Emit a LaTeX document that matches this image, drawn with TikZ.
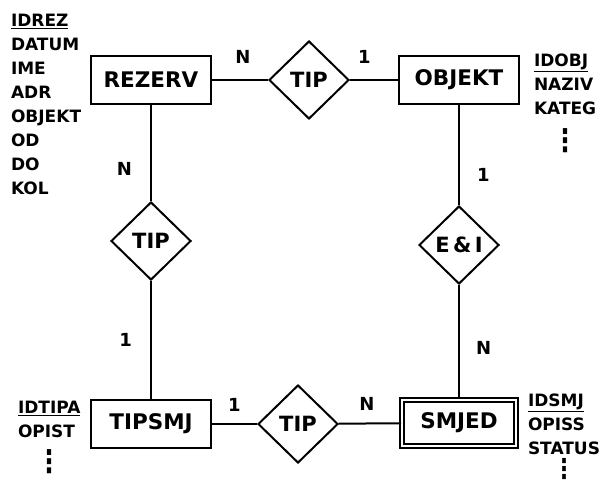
\documentclass[tikz,border=0pt]{standalone}
\usepackage{fontspec}
\setsansfont{DejaVu Sans}
\usetikzlibrary{positioning,shapes.geometric}
\newcommand{\tallvdots}{\scalebox{1}[1.3]{⋮}}

\begin{document}
\begin{tikzpicture}[
    x=1pt, y=-1pt,
    line width=2pt,
    every node/.style={font=\sffamily\bfseries},
    entity/.style={draw, minimum width=120pt, minimum height=48pt, inner sep=0pt, font=\sffamily\bfseries\fontsize{21.5}{26}\selectfont},
    weakentity/.style={entity, double, double distance=2.5pt, line width=1.6pt, minimum width=114pt, minimum height=46pt},
    relation/.style={draw, diamond, minimum width=80pt, minimum height=78pt, inner sep=0pt, font=\sffamily\bfseries\fontsize{21}{26}\selectfont},
    card/.style={inner sep=0pt, font=\sffamily\bfseries\fontsize{18}{22}\selectfont},
    attrs/.style={inner sep=0pt, anchor=north west, align=left, font=\sffamily\bfseries\fontsize{17}{24}\selectfont},
    more/.style={inner sep=0pt, font=\sffamily\bfseries\fontsize{24}{28}\selectfont}
]
\useasboundingbox (0,0) rectangle (604,489);
% entities and relationships
\node[entity] (rezerv) at (151,80) {REZERV};
\node[relation, right=56pt of rezerv] (tiptop) {TIP};
\node[entity, right=48pt of tiptop] (objekt) {OBJEKT};
\node[relation, below=96pt of rezerv] (tipleft) {TIP};
\node[relation, below=100pt of objekt] (eii) {E\,\&\,I};
\node[entity, below=118pt of tipleft] (tipsmj) {TIPSMJ};
\node[weakentity, below=114pt of eii] (smjed) {SMJED};
\node[relation, right=45pt of tipsmj] (tipbot) {TIP};
% connectors with cardinalities
\draw (rezerv) -- node[card, above=15pt, pos=.55] {N} (tiptop);
\draw (tiptop) -- node[card, above=15pt, pos=.3] {1} (objekt);
\draw (rezerv) -- node[card, left=18pt, pos=.67] {N} (tipleft);
\draw (tipleft) -- node[card, left=18pt] {1} (tipsmj);
\draw (objekt) -- node[card, right=17pt, pos=.7] {1} (eii);
\draw (eii) -- node[card, right=16pt, pos=.55] {N} (smjed);
\draw (tipsmj) -- node[card, above=12pt] {1} (tipbot);
\draw (tipbot) -- node[card, above=12pt, pos=.45] {N} (smjed);
% attributes
\node[attrs] (attrrez) at (10,13) {\underline{IDREZ}\\DATUM\\IME\\ADR\\OBJEKT\\OD\\DO\\KOL};
\node[attrs] (attrobj) at (533,53) {\underline{IDOBJ}\\NAZIV\\KATEG};
\node[more, below=12pt of attrobj] (moreobj) {\tallvdots};
\node[attrs] (attrtip) at (17,400) {\underline{IDTIPA}\\OPIST};
\node[more, below=10pt of attrtip] (moretip) {\tallvdots};
\node[attrs] (attrsmj) at (527,393) {\underline{IDSMJ}\\OPISS\\STATUS};
\node[more, font=\sffamily\bfseries\fontsize{21}{24}\selectfont, below=2pt of attrsmj] (moresmj) {\tallvdots};
\end{tikzpicture}
\end{document}
